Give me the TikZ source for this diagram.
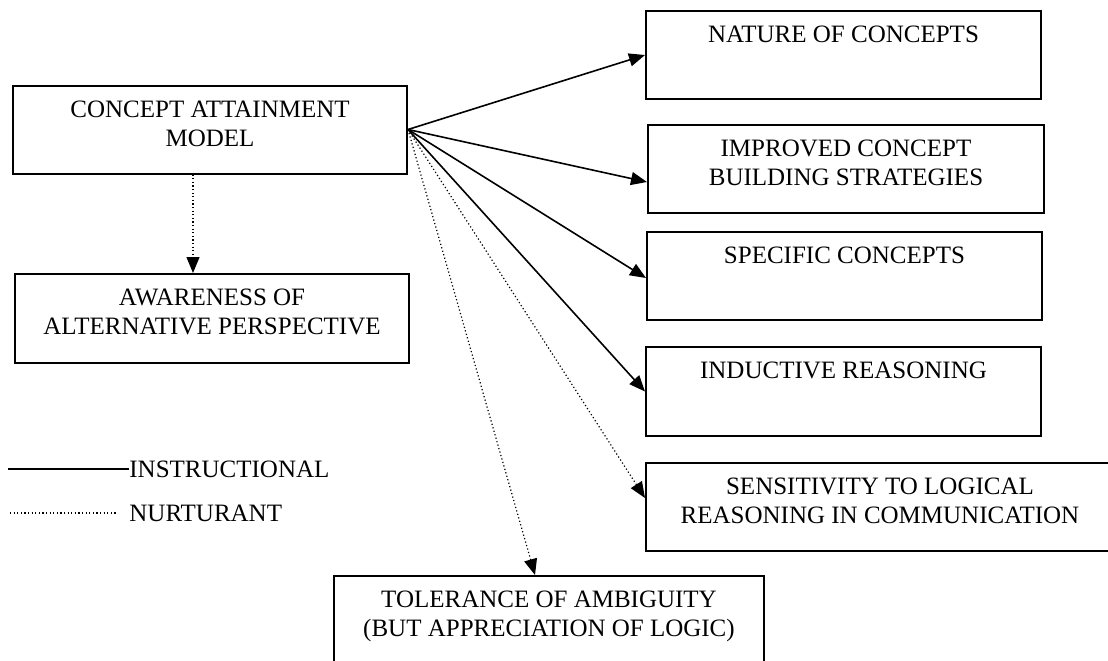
\documentclass[tikz,border=0pt]{standalone}
\usepackage{fontspec}
\setmainfont{Liberation Serif}
\usetikzlibrary{arrows.meta,positioning}

\begin{document}
\begin{tikzpicture}[x=0.5pt, y=-0.5pt,
  box/.style = {draw, line width=1pt, minimum height=44pt, inner sep=0pt},
  txt/.style = {align=center, inner sep=0pt, font=\fontsize{12.5}{14.5}\selectfont},
  instr/.style = {line width=0.8pt},
  nurt/.style = {line width=0.6pt, dash pattern=on 0.6pt off 1.2pt},
  arr/.style = {-{Triangle[length=8pt,width=6.5pt]}}]
  \useasboundingbox (0,0) rectangle (1108,660);

  % boxes
  \node[box, minimum width=197pt] (cam) at (210,129.5) {};
  \node[txt, below=8pt of cam.north] (camt) {CONCEPT ATTAINMENT\\MODEL};
  \node[box, minimum width=197.5pt] (nat) at (843.5,55) {};
  \node[txt, below=8pt of nat.north] (natt) {NATURE OF CONCEPTS};
  \node[box, minimum width=198pt] (imp) at (846,168.5) {};
  \node[txt, below=8pt of imp.north] (impt) {IMPROVED CONCEPT\\BUILDING STRATEGIES};
  \node[box, minimum width=197.5pt] (spec) at (844.5,275.5) {};
  \node[txt, below=8pt of spec.north] (spect) {SPECIFIC CONCEPTS};
  \node[box, minimum width=197.5pt, minimum height=44.5pt] (ind) at (843.5,391.5) {};
  \node[txt, below=8pt of ind.north] (indt) {INDUCTIVE REASONING};
  \node[box, minimum width=237pt] (sens) at (883,507) {};
  \node[txt, below=8pt of sens.north, xshift=-1.5pt] (senst) {SENSITIVITY TO LOGICAL\\REASONING IN COMMUNICATION};
  \node[box, minimum width=197pt, minimum height=44.5pt] (aware) at (212,318.5) {};
  \node[txt, below=8pt of aware.north] (awaret) {AWARENESS OF\\ALTERNATIVE PERSPECTIVE};
  \node[box, minimum width=215pt, minimum height=50pt] (tol) at (549,626) {};
  \node[txt, below=8pt of tol.north] (tolt) {TOLERANCE OF AMBIGUITY\\(BUT APPRECIATION OF LOGIC)};

  % connectors
  \draw[instr, arr] (cam.east) -- (nat.west);
  \draw[instr, arr] (cam.east) -- ([yshift=-6.75pt]imp.west);
  \draw[instr, arr] (cam.east) -- ([yshift=-1.25pt]spec.west);
  \draw[instr, arr] (cam.east) -- (ind.west);
  \draw[nurt, arr] (cam.east) -- ([yshift=4.5pt]sens.west);
  \draw[nurt, arr] (cam.east) -- ([xshift=-7pt]tol.north);
  \draw[nurt, arr] ([xshift=-8.5pt]cam.south) -- ([xshift=-8.5pt]cam.south |- aware.north);

  % legend
  \node[txt, anchor=west] (ins) at (129,469) {INSTRUCTIONAL};
  \node[txt, anchor=west] (nur) at (129,513) {NURTURANT};
  \coordinate (insl) at (8,469);
  \coordinate (nurl) at (10,513);
  \draw[instr] (insl) -- (ins.west);
  \draw[nurt] (nurl) -- ([xshift=-6pt]nur.west);
\end{tikzpicture}
\end{document}
